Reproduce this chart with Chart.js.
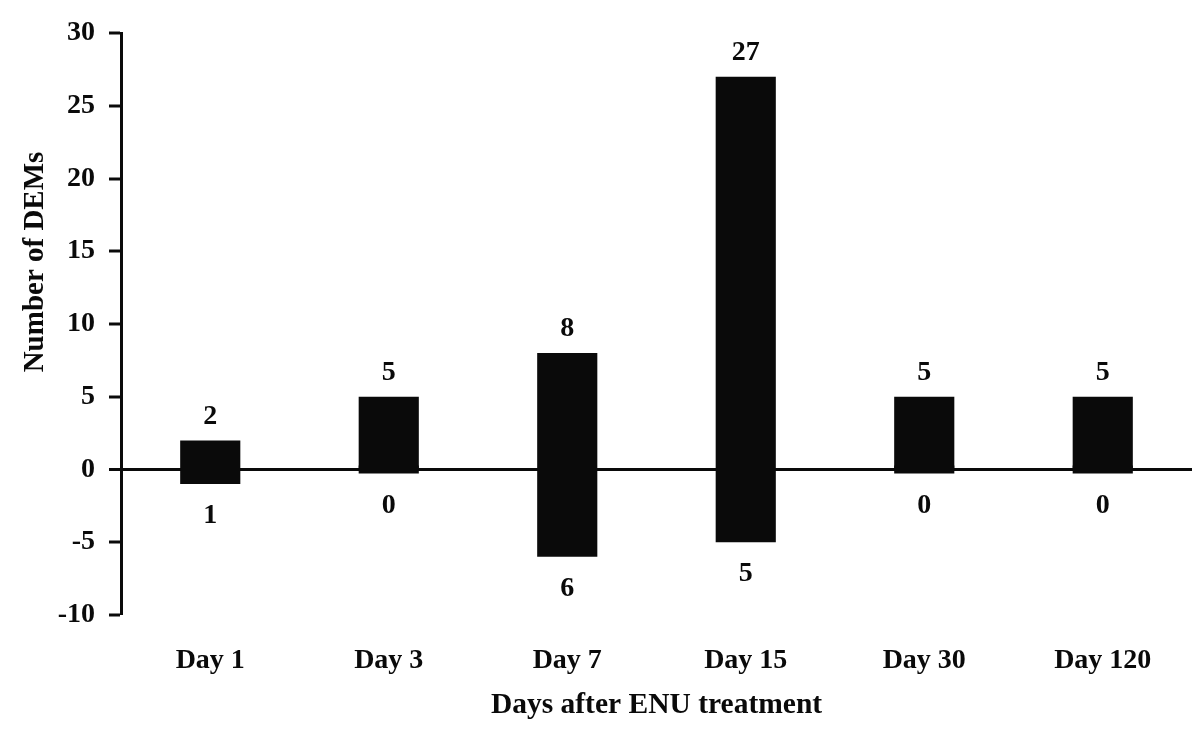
<!DOCTYPE html>
<html>
<head>
<meta charset="utf-8">
<script src="https://cdn.jsdelivr.net/npm/chart.js@4/dist/chart.umd.min.js"></script>
<style>
  html, body { margin: 0; padding: 0; background: #ffffff; }
  #wrap { width: 1200px; height: 735px; }
</style>
</head>
<body>
<div id="wrap"><canvas id="c" width="1200" height="735"></canvas></div>
<script>
const categories = ['Day 1', 'Day 3', 'Day 7', 'Day 15', 'Day 30', 'Day 120'];
const upregulated = [2, 5, 8, 27, 5, 5];
const downregulated = [1, 0, 6, 5, 0, 0];
const yMin = -10;
const yMax = 30;
const yStep = 5;
const xTitle = 'Days after ENU treatment';
const yTitle = 'Number of DEMs';

const FONT = "'Liberation Serif', 'Times New Roman', serif";
const INK = '#0a0a0a';

const labelPlugin = {
  id: 'barLabels',
  afterDatasetsDraw(chart) {
    const ctx = chart.ctx;
    ctx.save();
    ctx.font = 'bold 28px ' + FONT;
    ctx.fillStyle = INK;
    ctx.textAlign = 'center';
    ctx.textBaseline = 'middle';
    chart.data.datasets.forEach((ds, di) => {
      const meta = chart.getDatasetMeta(di);
      meta.data.forEach((el, i) => {
        const v = ds.counts[i];
        if (ds.direction === 'up') {
          const top = Math.min(el.y, el.base);
          ctx.fillText(String(v), el.x, top - 24);
        } else {
          const bottom = Math.max(el.y, el.base);
          ctx.fillText(String(v), el.x, bottom + 32);
        }
      });
    });
    ctx.restore();
  }
};

const yTitlePlugin = {
  id: 'yTitle',
  afterDraw(chart) {
    const ctx = chart.ctx;
    ctx.save();
    ctx.font = 'bold 29px ' + FONT;
    ctx.fillStyle = INK;
    ctx.textAlign = 'center';
    ctx.textBaseline = 'middle';
    ctx.translate(36, 262);
    ctx.rotate(-Math.PI / 2);
    ctx.fillText(yTitle, 0, 0);
    ctx.restore();
  }
};

new Chart(document.getElementById('c'), {
  type: 'bar',
  data: {
    labels: categories,
    datasets: [
      {
        label: 'Up',
        direction: 'up',
        counts: upregulated,
        data: upregulated.slice(),
        backgroundColor: INK,
        borderWidth: 0,
        grouped: false,
        categoryPercentage: 1,
        barPercentage: 0.337
      },
      {
        label: 'Down',
        direction: 'down',
        counts: downregulated,
        data: downregulated.map(v => -v),
        backgroundColor: INK,
        borderWidth: 0,
        grouped: false,
        minBarLength: 8,
        categoryPercentage: 1,
        barPercentage: 0.337
      }
    ]
  },
  options: {
    responsive: false,
    animation: false,
    layout: { padding: { top: 33, right: 8, bottom: 0, left: 0 } },
    plugins: {
      legend: { display: false },
      tooltip: { enabled: false }
    },
    scales: {
      x: {
        grid: { display: false, drawTicks: false },
        border: { display: false },
        ticks: {
          color: INK,
          font: { family: FONT, size: 28, weight: 'bold' },
          padding: 29,
          maxRotation: 0
        },
        title: {
          display: true,
          text: xTitle,
          color: INK,
          font: { family: FONT, size: 29.5, weight: 'bold' },
          padding: { top: 0, bottom: 12 }
        },
        afterFit(s) { s.height = 120; }
      },
      y: {
        min: yMin,
        max: yMax,
        border: { display: true, color: INK, width: 3 },
        grid: {
          drawOnChartArea: true,
          color: c => (c.tick && c.tick.value === 0 ? INK : 'rgba(0,0,0,0)'),
          lineWidth: c => (c.tick && c.tick.value === 0 ? 3 : 0),
          tickColor: INK,
          tickWidth: 3,
          tickLength: 12
        },
        ticks: {
          stepSize: yStep,
          color: INK,
          font: { family: FONT, size: 28, weight: 'bold' },
          padding: 14
        },
        afterFit(s) { s.width = 121; }
      }
    }
  },
  plugins: [labelPlugin, yTitlePlugin]
});
</script>
</body>
</html>
